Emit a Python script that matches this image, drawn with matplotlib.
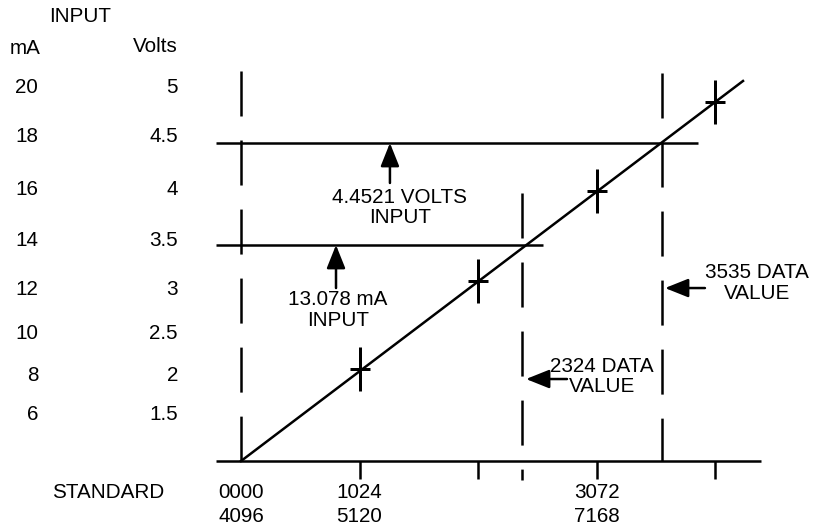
import matplotlib
matplotlib.use("Agg")
import matplotlib.pyplot as plt
from matplotlib.patches import FancyArrowPatch

plt.rcParams['font.family'] = ['Liberation Sans', 'DejaVu Sans']

W, H = 815, 530
FS = 14.9
LW = 1.8

# ---- data (diagram units: x = data counts, y = volts) ----
ma_labels = ["20", "18", "16", "14", "12", "10", "8", "6"]
volt_labels = ["5", "4.5", "4", "3.5", "3", "2.5", "2", "1.5"]
label_y_volts = [5.049, 4.559, 4.049, 3.549, 3.059, 2.632, 2.216, 1.843]

tick_counts = [1024, 2048, 3072, 4096]
tick_label_counts = [0, 1024, 3072]
tick_labels_top = ["0000", "1024", "3072"]
tick_labels_bottom = ["4096", "5120", "7168"]

line_counts = [0, 4338]          # transfer line end points
line_volts = [1.382, 5.108]

cross_counts = [1024, 2048, 3072, 4096]
cross_volts = [2.284, 3.147, 4.029, 4.902]

volts_input_level = 4.5
ma_input_level = 3.5
volts_line_end = 3949
ma_line_end = 2610
hline_start = -216

data_3535_x = 3638
data_2324_x = 2428

baseline_volts = 1.382
baseline_span = [-216, 4493]

# ---- figure: axes cover whole figure, calibrated to diagram units ----
fig = plt.figure(figsize=(W / 100, H / 100), dpi=100)
ax = fig.add_axes([0, 0, 1, 1])
CPP = 1024 / 118.5          # counts per pixel
VPP = 1 / 102.0             # volts per pixel
X0, Y0 = 241, 143
ax.set_xlim(-X0 * CPP, (W - X0) * CPP)
ax.set_ylim(4.5 - (H - Y0) * VPP, 4.5 + Y0 * VPP)
ax.axis('off')


def fx(px):
    return px / W


def fy(py):
    return 1 - py / H


dash = (0, (32.4 / LW, 17.3 / LW))
kw = dict(color='black', lw=LW, solid_capstyle='butt')

# baseline
ax.plot(baseline_span, [baseline_volts] * 2, **kw)
# ticks below baseline
for c in tick_counts:
    ax.plot([c, c], [baseline_volts, baseline_volts - 18 * VPP], **kw)

# dashed verticals
ax.plot([0, 0], [5.206, baseline_volts], linestyle=dash, color='black', lw=LW)
ax.plot([data_3535_x] * 2, [5.186, baseline_volts], linestyle=dash, color='black', lw=LW)
ax.plot([data_2324_x] * 2, [4.010, baseline_volts - 19 * VPP], linestyle=dash, color='black', lw=LW)

# horizontal input lines
ax.plot([hline_start, volts_line_end], [volts_input_level] * 2, **kw)
ax.plot([hline_start, ma_line_end], [ma_input_level] * 2, **kw)

# transfer line
ax.plot(line_counts, line_volts, color='black', lw=LW)

# crosses
ax.plot(cross_counts, cross_volts, linestyle='none', marker='|', ms=31,
        mew=LW * 1.2, color='black')
ax.plot(cross_counts, cross_volts, linestyle='none', marker='_', ms=14,
        mew=LW * 1.2, color='black')


def arrow(p0, p1):
    a = FancyArrowPatch(p0, p1, arrowstyle='-|>,head_length=0.75,head_width=0.3',
                        mutation_scale=19, color='black', lw=LW,
                        shrinkA=0, shrinkB=0)
    ax.add_patch(a)


arrow((1287, 4.108), (1287, volts_input_level))
arrow((821, 3.078), (821, ma_input_level))
arrow((4009, 3.078), (3664, 3.078))
arrow((2817, 2.186), (2463, 2.186))

tkw = dict(fontsize=FS, color='black', ha='center', va='center',
           multialignment='center', linespacing=1.12)
ax.text(fx(400), fy(207.5), "4.4521 VOLTS\nINPUT", transform=ax.transAxes, **tkw)
ax.text(fx(338), fy(310), "13.078 mA\nINPUT", transform=ax.transAxes, **tkw)
ax.text(fx(757), fy(283), "3535 DATA\nVALUE", transform=ax.transAxes, **tkw)
ax.text(fx(602), fy(376.5), "2324 DATA\nVALUE", transform=ax.transAxes, **tkw)

# left scale
ax.text(fx(80), fy(17), "INPUT", transform=ax.transAxes, fontsize=FS, ha='center', va='center')
ax.text(fx(25), fy(48), "mA", transform=ax.transAxes, fontsize=FS, ha='center', va='center')
ax.text(fx(178), fy(46), "Volts", transform=ax.transAxes, fontsize=FS, ha='right', va='center')
for lab_ma, lab_v, yv in zip(ma_labels, volt_labels, label_y_volts):
    ax.text(fx(38), yv, lab_ma, transform=ax.get_yaxis_transform(), fontsize=FS,
            ha='right', va='center')
    ax.text(fx(178), yv, lab_v, transform=ax.get_yaxis_transform(), fontsize=FS,
            ha='right', va='center')

# bottom labels
ax.text(fx(108), fy(493), "STANDARD", transform=ax.transAxes, fontsize=FS, ha='center', va='center')
for c, t1, t2 in zip(tick_label_counts, tick_labels_top, tick_labels_bottom):
    ax.text(c, fy(493), t1, transform=ax.get_xaxis_transform(), fontsize=FS, ha='center', va='center')
    ax.text(c, fy(516), t2, transform=ax.get_xaxis_transform(), fontsize=FS, ha='center', va='center')

fig.savefig("out.png", dpi=100)
